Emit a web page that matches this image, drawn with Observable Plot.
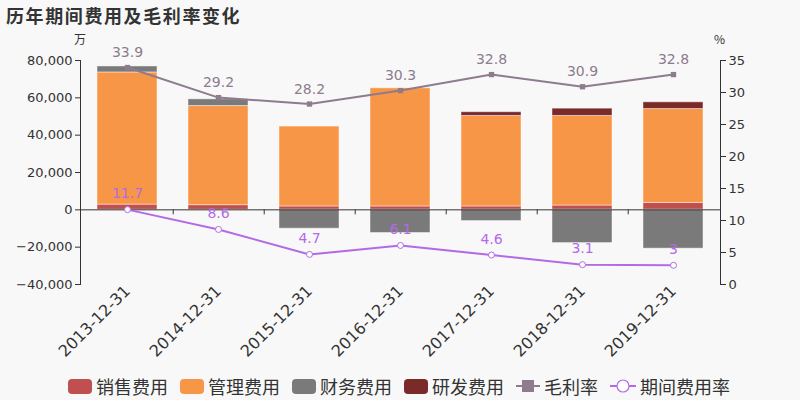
<!DOCTYPE html>
<html><head><meta charset="utf-8">
<script src="https://cdn.jsdelivr.net/npm/d3@7"></script>
<script src="https://cdn.jsdelivr.net/npm/@observablehq/plot@0.6"></script>
<style>
html,body{margin:0;padding:0;background:#f8f8f8;}
#wrap{position:relative;width:800px;height:400px;font-family:"DejaVu Sans","Noto Sans CJK SC",sans-serif;}
#title{position:absolute;left:6px;top:2px;font-size:18px;font-weight:bold;color:#333;letter-spacing:1.6px;font-family:"Noto Sans CJK SC",sans-serif;}
.unit{position:absolute;top:30px;font-size:12px;color:#333;font-family:"Noto Sans CJK SC",sans-serif;}
#legend{position:absolute;left:68px;top:373px;display:flex;align-items:center;font-size:18px;color:#333;font-family:"Noto Sans CJK SC",sans-serif;}
.item{display:flex;align-items:center;margin-right:12px;}
.sw{width:24px;height:15px;border-radius:4px;margin-right:4px;}
</style></head>
<body><div id="wrap">
<div id="title">历年期间费用及毛利率变化</div>
<div class="unit" style="left:74px">万</div>
<div class="unit" style="left:714px">%</div>
<div id="legend"></div>
</div>
<script>
const dates = ["2013-12-31","2014-12-31","2015-12-31","2016-12-31","2017-12-31","2018-12-31","2019-12-31"];
const seriesNames = ["销售费用","管理费用","财务费用","研发费用"];
const sales = [2800, 2500, 1800, 1800, 1800, 2300, 3700];
const admin = [70800, 53100, 42800, 63300, 48500, 48000, 50300];
const finance = [3200, 3600, -10100, -12400, -6000, -17800, -20800];
const rnd = [0, 0, 0, 0, 2000, 3900, 3600];
const grossMargin = [33.9, 29.2, 28.2, 30.3, 32.8, 30.9, 32.8];
const periodRate = [11.7, 8.6, 4.7, 6.1, 4.6, 3.1, 3];
const yTicks = [-40000, -20000, 0, 20000, 40000, 60000, 80000];
const rateTicks = [0, 5, 10, 15, 20, 25, 30, 35];
const barColors = ["#c0504d", "#f79646", "#7a7a7a", "#7b2a2a"];
const gmColor = "#8e7b8e";
const prColor = "#b36ae6";

const seriesVals = [sales, admin, finance, rnd];
const rows = [];
seriesNames.forEach((s, j) => dates.forEach((d, i) => rows.push({date: d, series: s, value: seriesVals[j][i]})));
const yMin = -40000, yMax = 80000, rMax = 35;
const k = (yMax - yMin) / rMax;
const toY = r => r * k + yMin;
const lineRows = dates.map((d, i) => ({date: d, gm: toY(grossMargin[i]), pr: toY(periodRate[i]), gmv: grossMargin[i], prv: periodRate[i]}));

const font = "DejaVu Sans, Noto Sans CJK SC, sans-serif";
const chart = Plot.plot({
  width: 800, height: 400,
  marginTop: 60, marginBottom: 116, marginLeft: 80, marginRight: 80,
  style: {background: "#f8f8f8", fontFamily: font, color: "#333", overflow: "visible"},
  x: {domain: dates, paddingInner: 0.34, paddingOuter: 0.17, label: null},
  y: {domain: [yMin, yMax], label: null},
  color: {domain: seriesNames, range: barColors},
  marks: [
    Plot.barY(rows, {x: "date", y: "value", fill: "series", stroke: "#ffffff", strokeOpacity: 0.45, strokeWidth: 1}),
    Plot.ruleY([0], {stroke: "#333", strokeWidth: 1}),
    Plot.ruleX(dates.slice(0, -1), {x: d => d, y1: 0, y2: 0, dx: 640 / 7 / 2, insetBottom: -5, stroke: "#333"}),
    Plot.frame({anchor: "left", stroke: "#333"}),
    Plot.frame({anchor: "right", stroke: "#333"}),
    Plot.axisY({ticks: yTicks, tickFormat: d3.format(","), tickSize: 5, fontSize: 13, tickPadding: 3, label: null}),
    Plot.axisY({anchor: "right", ticks: rateTicks.map(toY), tickFormat: d => String(Math.round((d - yMin) / k)), tickSize: 5, fontSize: 13, tickPadding: 3, label: null}),
    Plot.axisX({tickRotate: -45, tickSize: 0, fontSize: 16, label: null, tickPadding: 4}),
    Plot.line(lineRows, {x: "date", y: "gm", stroke: gmColor, strokeWidth: 2}),
    Plot.dot(lineRows, {x: "date", y: "gm", symbol: "square", r: 3, fill: gmColor}),
    Plot.text(lineRows, {x: "date", y: "gm", text: d => String(d.gmv), dy: -15, fill: gmColor, fontSize: 14}),
    Plot.line(lineRows, {x: "date", y: "pr", stroke: prColor, strokeWidth: 2}),
    Plot.dot(lineRows, {x: "date", y: "pr", r: 3, fill: "#ffffff", stroke: prColor, strokeWidth: 1}),
    Plot.text(lineRows, {x: "date", y: "pr", text: d => String(d.prv), dy: -16, fill: prColor, fontSize: 14})
  ]
});
chart.style.position = "absolute";
chart.style.left = "0px";
chart.style.top = "0px";
const wrap = document.getElementById("wrap");
wrap.insertBefore(chart, wrap.firstChild);

const legend = document.getElementById("legend");
seriesNames.forEach((s, j) => {
  const it = document.createElement("div"); it.className = "item";
  it.innerHTML = `<div class="sw" style="background:${barColors[j]}"></div><span>${s}</span>`;
  legend.appendChild(it);
});
const lineItems = [["毛利率", gmColor, "square"], ["期间费用率", prColor, "circle"]];
lineItems.forEach(([name, c, sym]) => {
  const it = document.createElement("div"); it.className = "item";
  const m = sym === "square"
    ? `<rect x="6" y="2" width="12" height="12" fill="${c}"/>`
    : `<circle cx="13" cy="8" r="6" fill="#fff" stroke="${c}" stroke-width="1.2"/>`;
  it.innerHTML = `<svg width="${sym === "square" ? 24 : 26}" height="16" style="margin-right:4px"><line x1="0" y1="8" x2="${sym === "square" ? 24 : 26}" y2="8" stroke="${c}" stroke-width="2"/>${m}</svg><span>${name}</span>`;
  legend.appendChild(it);
});
</script>
</body></html>
